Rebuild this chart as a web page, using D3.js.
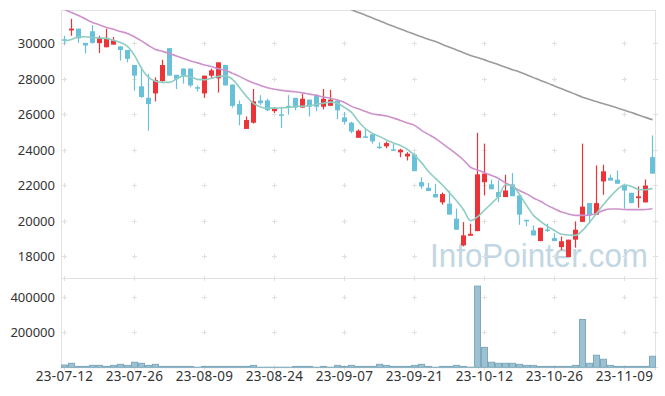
<!DOCTYPE html>
<html>
<head>
<meta charset="utf-8">
<script src="https://cdn.jsdelivr.net/npm/d3@7/dist/d3.min.js"></script>
<style>
    body { margin: 0; background: #fff; }
    svg text { font-family: "Noto Sans", sans-serif; }
</style>
</head>
<body>
<div id="chart"></div>
<script>
"use strict";

const dates = [
    "23-07-12", "23-07-13", "23-07-14", "23-07-17", "23-07-18", "23-07-19", "23-07-20", "23-07-21", "23-07-24", "23-07-25",
    "23-07-26", "23-07-27", "23-07-28", "23-07-31", "23-08-01", "23-08-02", "23-08-03", "23-08-04", "23-08-07", "23-08-08",
    "23-08-09", "23-08-10", "23-08-11", "23-08-14", "23-08-16", "23-08-17", "23-08-18", "23-08-21", "23-08-22", "23-08-23",
    "23-08-24", "23-08-25", "23-08-28", "23-08-29", "23-08-30", "23-08-31", "23-09-01", "23-09-04", "23-09-05", "23-09-06",
    "23-09-07", "23-09-08", "23-09-11", "23-09-12", "23-09-13", "23-09-14", "23-09-15", "23-09-18", "23-09-19", "23-09-20",
    "23-09-21", "23-09-22", "23-09-25", "23-09-26", "23-09-27", "23-10-04", "23-10-05", "23-10-06", "23-10-10", "23-10-11",
    "23-10-12", "23-10-13", "23-10-16", "23-10-17", "23-10-18", "23-10-19", "23-10-20", "23-10-23", "23-10-24", "23-10-25",
    "23-10-26", "23-10-27", "23-10-30", "23-10-31", "23-11-01", "23-11-02", "23-11-03", "23-11-06", "23-11-07", "23-11-08",
    "23-11-09", "23-11-10", "23-11-13", "23-11-14", "23-11-15"
];

const opens = [
    30250, 30750, 30850, 30050, 30700, 30030, 29800, 29950, 29850, 29650,
    28800, 27600, 26950, 27200, 27900, 29750, 28250, 28600, 28600, 27550,
    27200, 28200, 28050, 28800, 27700, 26600, 25200, 25550, 26800, 26800,
    26200, 26020, 26500, 26950, 26400, 26850, 27100, 26450, 26500, 26800,
    25850, 25550, 24700, 24780, 24900, 24200, 24220, 24050, 23880, 23650,
    23750, 22200, 21880, 21530, 21060, 20990, 20140, 18640, 19180, 19440,
    22200, 22080, 21640, 21360, 22070, 21450, 20080, 19480, 18880, 19530,
    19050, 18540, 17980, 18960, 19960, 21020, 20370, 22240, 22450, 22340,
    22050, 21600, 21300, 21060, 23610
];
const highs = [
    30450, 31400, 30850, 30050, 31050, 30450, 30850, 30380, 29850, 29650,
    28800, 28700, 28300, 28100, 29100, 29750, 28250, 28600, 28600, 27650,
    28200, 28600, 28950, 28800, 27700, 26800, 25900, 27450, 27100, 26900,
    26430, 26450, 27100, 26950, 27180, 26850, 27150, 27450, 27400, 26800,
    26150, 25600, 25170, 25200, 24900, 24450, 24490, 24370, 24080, 23890,
    23840, 22480, 22150, 22110, 21620, 21720, 20710, 19950, 19860, 24980,
    24370, 22340, 22300, 22620, 22710, 21450, 20080, 19760, 19630, 19860,
    19330, 19140, 18960, 19990, 24370, 21020, 23140, 23180, 22620, 22860,
    22050, 21600, 21960, 22350, 24830
];
const lows = [
    29950, 30450, 30050, 29450, 30000, 29470, 29800, 29950, 29050, 28950,
    27350, 26950, 25100, 26750, 27850, 28200, 27450, 27750, 27550, 27300,
    26950, 28050, 27250, 27650, 26400, 25400, 25200, 25500, 26550, 26200,
    26100, 25250, 26000, 26250, 26400, 25900, 26200, 26300, 26480, 25750,
    25450, 24950, 24700, 24730, 24370, 24080, 24110, 23980, 23610, 23420,
    22820, 21830, 21700, 21340, 20930, 20370, 19520, 18580, 19180, 19440,
    21450, 21800, 21070, 21360, 21410, 19800, 19710, 19200, 18880, 19390,
    18880, 18360, 17980, 18510, 19960, 19860, 20370, 21490, 22290, 22110,
    20710, 21020, 20760, 21060, 22680
];
const closes = [
    30200, 30850, 30300, 29900, 30050, 30330, 30330, 30200, 29650, 29150,
    28200, 27000, 26600, 27950, 28800, 28200, 28000, 28200, 27650, 27500,
    28200, 28500, 28950, 27650, 26500, 26000, 25700, 26750, 26650, 26250,
    26380, 25990, 26400, 26400, 26900, 26450, 26450, 26900, 26850, 26250,
    25600, 25050, 25100, 24740, 24500, 24180, 24400, 23990, 24030, 23800,
    22820, 21960, 21700, 21340, 21530, 20370, 19520, 19200, 19290, 22640,
    22680, 21800, 21360, 21730, 21410, 20370, 20030, 19200, 19630, 19500,
    18880, 18870, 18960, 19520, 20820, 20330, 21020, 22810, 22290, 22110,
    21730, 21020, 21400, 22010, 22680
];
const volumes = [
    13000, 23000, 5000, 5000, 11000, 11000, 5000, 11000, 17000, 11000,
    29000, 23000, 11000, 17000, 5000, 5000, 5000, 5000, 5000, 500,
    5000, 5000, 5000, 5000, 5000, 5000, 5000, 11000, 500, 500,
    500, 500, 500, 5000, 5000, 5000, 500, 5000, 500, 11000,
    5000, 11000, 5000, 5000, 5000, 17000, 11000, 5000, 5000, 5000,
    11000, 17000, 5000, 500, 5000, 5000, 11000, 5000, 500, 465000,
    114000, 29000, 23000, 23000, 23000, 17000, 11000, 11000, 5000, 5000,
    5000, 5000, 5000, 11000, 274000, 23000, 69000, 46000, 11000, 5000,
    5000, 5000, 5000, 5000, 63000
];
// moving averages
const ma5 = [
    30150, 30240, 30390, 30390, 30350, 30320, 30300, 30190, 30070, 29850,
    29340, 28610, 28100, 27880, 27820, 27820, 28020, 28190, 28130, 27990,
    27970, 28050, 28160, 28190, 27990, 27540, 27030, 26640, 26440, 26370,
    26370, 26390, 26410, 26470, 26480, 26520, 26580, 26650, 26710, 26640,
    26410, 26130, 25620, 25210, 24950, 24780, 24580, 24410, 24270, 24040,
    23710, 23300, 22800, 22410, 22040, 21600, 21150, 20650, 20030, 20250,
    20620, 21000, 21400, 22050, 21990, 21510, 20890, 20330, 19990, 19710,
    19480, 19260, 19220, 19200, 19480, 19930, 20440, 20940, 21400, 21790,
    22040, 21960, 21790, 21770, 21850
];
const ma20 = [
    31930, 31760, 31590, 31390, 31200, 31060, 30920, 30810, 30690, 30580,
    30380, 30160, 29900, 29680, 29570, 29450, 29310, 29170, 29030, 28920,
    28800, 28720, 28590, 28500, 28330, 28160, 27960, 27790, 27650, 27520,
    27430, 27370, 27330, 27290, 27230, 27160, 27090, 27000, 26930, 26830,
    26690, 26470, 26330, 26180, 26040, 25990, 25930, 25810, 25680, 25530,
    25400, 25120, 24890, 24660, 24370, 24080, 23780, 23450, 23040, 22890,
    22730, 22580, 22410, 22160, 21960, 21730, 21540, 21310, 21120, 20890,
    20700, 20520, 20410, 20330, 20330, 20350, 20440, 20610, 20690, 20690,
    20660, 20650, 20650, 20660, 20700
];
const ma60 = [
    null, null, null, null, null, null, null, null, null, null,
    null, null, null, null, null, null, null, null, null, null,
    null, null, null, null, null, null, null, null, null, null,
    null, null, null, null, null, null, null, null, null, null,
    32090, 31920, 31760, 31610, 31450, 31290, 31130, 30980, 30830, 30680,
    30530, 30390, 30250, 30120, 29960, 29800, 29650, 29490, 29340, 29220,
    29090, 28960, 28820, 28680, 28540, 28410, 28250, 28090, 27930, 27780,
    27620, 27460, 27310, 27150, 26990, 26860, 26740, 26620, 26500, 26380,
    26250, 26120, 25990, 25850, 25720
];

const priceTicks = [18000, 20000, 22000, 24000, 26000, 28000, 30000];
const volumeTicks = [200000, 400000];
const dateTicks = ["23-07-12", "23-07-26", "23-08-09", "23-08-24", "23-09-07", "23-09-21", "23-10-12", "23-10-26", "23-11-09"];
const priceRange = [16800, 31900];

const upColor = "#ec3338";
const downColor = "#68c0d9";

function drawChart() {
    const width = 665, height = 396;
    const left = 61, right = 656;
    const priceTop = 10, priceBottom = 278;
    const volTop = 278, volBottom = 367.3;

    const svg = d3.select("#chart").append("svg")
        .attr("width", width).attr("height", height);

    const xScale = d3.scaleBand().domain(dates).range([left, right]);
    const half = xScale.bandwidth() / 2;
    const cx = function (d) { return xScale(d) + half; };

    const yScale = d3.scaleLinear().domain(priceRange).range([priceBottom, priceTop]);
    const vScale = d3.scaleLinear()
        .domain([0, d3.max(volumes) * 1.1])
        .range([volBottom, volTop]);

    // watermark
    svg.append("text")
        .attr("x", 430).attr("y", 267)
        .attr("textLength", 218).attr("lengthAdjust", "spacingAndGlyphs")
        .style("font-family", "'Liberation Sans', Arial, sans-serif")
        .style("font-size", "34px")
        .attr("fill", "#c2d7e3");
    svg.select("text").text("InfoPointer.com");

    // panel frames
    const frame = svg.append("g").attr("fill", "none").attr("stroke", "#e3e3e3");
    frame.append("rect").attr("x", left + 0.5).attr("y", priceTop + 0.5)
        .attr("width", right - left - 1).attr("height", priceBottom - priceTop);
    frame.append("rect").attr("x", left + 0.5).attr("y", volTop + 0.5)
        .attr("width", right - left - 1).attr("height", volBottom - volTop);

    // grid crosses
    const crossX = dateTicks.map(cx).concat([right - 0.5]);
    const crossY = priceTicks.map(yScale).concat(volumeTicks.map(vScale)).concat([priceBottom, volBottom]);
    const grid = svg.append("g").attr("stroke", "#e0e0e0").attr("stroke-width", 1);
    crossX.forEach(function (x) {
        crossY.forEach(function (y) {
            const px = Math.round(x - 0.5) + 0.5, py = Math.round(y - 0.5) + 0.5;
            grid.append("line").attr("x1", px - 2.5).attr("x2", px + 2.5).attr("y1", py).attr("y2", py);
            grid.append("line").attr("x1", px).attr("x2", px).attr("y1", py - 2.5).attr("y2", py + 2.5);
        });
    });

    const candles = dates.map(function (d, i) {
        return {date: d, o: opens[i], h: highs[i], l: lows[i], c: closes[i]};
    });

    const clip = svg.append("defs").append("clipPath").attr("id", "price-clip");
    clip.append("rect").attr("x", left).attr("y", priceTop)
        .attr("width", right - left).attr("height", priceBottom - priceTop);

    const plot = svg.append("g").attr("clip-path", "url(#price-clip)");
    const candleG = plot.selectAll("g.candle").data(candles).enter().append("g")
        .attr("class", "candle")
        .attr("fill", function (d) { return d.c >= d.o ? upColor : downColor; })
        .attr("stroke", function (d) { return d.c >= d.o ? upColor : downColor; });
    candleG.append("line")
        .attr("x1", function (d) { return Math.floor(cx(d.date)) + 0.5; })
        .attr("x2", function (d) { return Math.floor(cx(d.date)) + 0.5; })
        .attr("y1", function (d) { return yScale(d.h); })
        .attr("y2", function (d) { return yScale(d.l); })
        .attr("stroke-width", 1.2);
    candleG.append("rect")
        .attr("x", function (d) { return Math.floor(cx(d.date)) - 2; })
        .attr("width", 5)
        .attr("y", function (d) { return yScale(Math.max(d.o, d.c)); })
        .attr("height", function (d) { return Math.max(1.5, Math.abs(yScale(d.o) - yScale(d.c))); })
        .attr("stroke", "none");

    const lineGen = d3.line()
        .defined(function (d) { return d[1] != null; })
        .x(function (d) { return cx(d[0]); })
        .y(function (d) { return yScale(d[1]); })
        .curve(d3.curveMonotoneX);
    const series = [
        {values: ma60, color: "#9b9b9b"},
        {values: ma20, color: "#cd92cb"},
        {values: ma5, color: "#8fcdc2"}
    ];
    series.forEach(function (s) {
        plot.append("path")
            .datum(dates.map(function (d, i) { return [d, s.values[i]]; }))
            .attr("fill", "none")
            .attr("stroke", s.color)
            .attr("stroke-width", 1.6)
            .attr("d", lineGen);
    });

    // volume bars
    svg.append("g").selectAll("rect").data(volumes).enter().append("rect")
        .attr("x", function (d, i) { return xScale(dates[i]) + 0.5; })
        .attr("width", xScale.bandwidth() - 1)
        .attr("y", function (d) { return vScale(d); })
        .attr("height", function (d) { return volBottom - vScale(d); })
        .attr("fill", "#9cc2d2")
        .attr("stroke", "#7ea9bd")
        .attr("stroke-width", 1);

    // axes
    const yAxis = d3.axisLeft(yScale).tickValues(priceTicks).tickSize(0).tickPadding(6)
        .tickFormat(d3.format("d"));
    const vAxis = d3.axisLeft(vScale).tickValues(volumeTicks).tickSize(0).tickPadding(6)
        .tickFormat(d3.format("d"));
    const xAxis = d3.axisBottom(xScale).tickValues(dateTicks).tickSize(0).tickPadding(4);

    [svg.append("g").attr("transform", "translate(" + left + ",0)").call(yAxis),
     svg.append("g").attr("transform", "translate(" + left + ",0)").call(vAxis)
    ].forEach(function (g) {
        g.select(".domain").remove();
        g.selectAll("text")
            .style("font-family", "'Noto Sans', sans-serif")
            .style("font-size", "13px")
            .attr("fill", "#333");
    });
    const xg = svg.append("g").attr("transform", "translate(0," + volBottom + ")").call(xAxis);
    xg.select(".domain").remove();
    xg.selectAll("text")
        .style("font-family", "'Noto Sans', sans-serif")
        .style("font-size", "13.5px")
        .style("letter-spacing", "0.3px")
        .attr("fill", "#333");
}

drawChart();
</script>
</body>
</html>
